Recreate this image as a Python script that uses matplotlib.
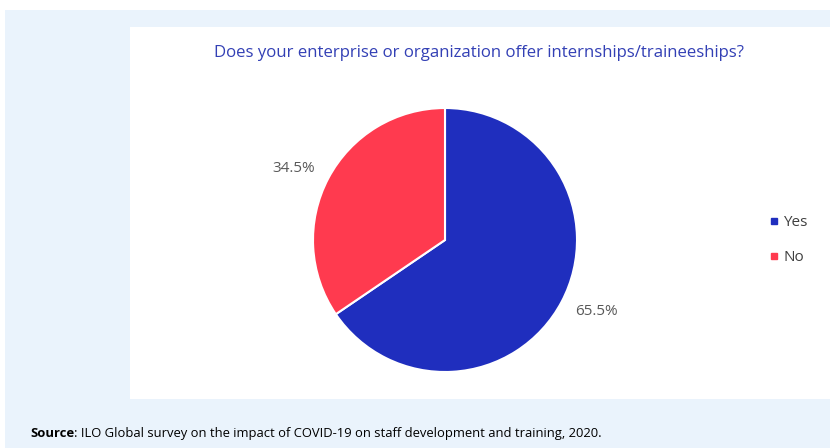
import matplotlib
matplotlib.use("Agg")
import matplotlib.pyplot as plt
from matplotlib.patches import Rectangle
from matplotlib.lines import Line2D

categories = ["Yes", "No"]
values = [65.5, 34.5]
colors = ["#1F2EBE", "#FF3A4F"]
title = "Does your enterprise or organization offer internships/traineeships?"

W, H = 830, 448
fig = plt.figure(figsize=(W/100, H/100), dpi=100)
fig.patch.set_facecolor("white")

def px(x, y, w, h):
    return (x/W, 1 - (y+h)/H, w/W, h/H)

# light blue outer box
fig.patches.append(Rectangle((5/W, 0), 1, 1 - 10/H, transform=fig.transFigure,
                             facecolor="#EAF3FC", edgecolor="none", zorder=-3))
# white panel
x0, y0, w0, h0 = px(130, 27, 700, 372)
fig.patches.append(Rectangle((x0, y0), w0, h0, transform=fig.transFigure,
                             facecolor="white", edgecolor="none", zorder=-2))

fig.text(479/W, 1 - 53/H, title, ha="center", va="center", color="#3340B5",
         fontsize=12.1, family="Open Sans")

r = 132
ax = fig.add_axes(px(445 - r, 240 - r, 2*r, 2*r))
ax.set_zorder(1)
wedges, texts, autotexts = ax.pie(values, colors=colors, startangle=90, counterclock=False,
       autopct="%.1f%%", pctdistance=1.3,
       wedgeprops=dict(edgecolor="white", linewidth=1.5),
       textprops=dict(color="#595959", fontsize=11, family="Open Sans"))
ax.set_xlim(-1, 1); ax.set_ylim(-1, 1)
ax.set_aspect("equal")
ax.axis("off")
for t in autotexts:
    t.set_clip_on(False)
    x, y = t.get_position()
    t.set_position((x, y * 0.89))

handles = [Line2D([], [], marker="s", linestyle="none", markersize=4,
                  markerfacecolor=c, markeredgecolor=c) for c in colors]
leg = fig.legend(handles, categories, loc="center left", bbox_to_anchor=(754/W, 1 - 240/H),
                 frameon=False, handletextpad=0.2, labelspacing=1.3,
                 prop=dict(family="Open Sans", size=11), handlelength=0.8)
for t in leg.get_texts():
    t.set_color("#404040")

fig.text(30/W, 1 - 433/H, "Source", ha="left", va="center", fontsize=9.4,
         fontweight="bold", family="Open Sans", color="black")
fig.text(74/W, 1 - 433/H, ": ILO Global survey on the impact of COVID-19 on staff development and training, 2020.",
         ha="left", va="center", fontsize=9.4, family="Open Sans", color="black")

fig.savefig("out.png", dpi=100, facecolor=fig.get_facecolor())
